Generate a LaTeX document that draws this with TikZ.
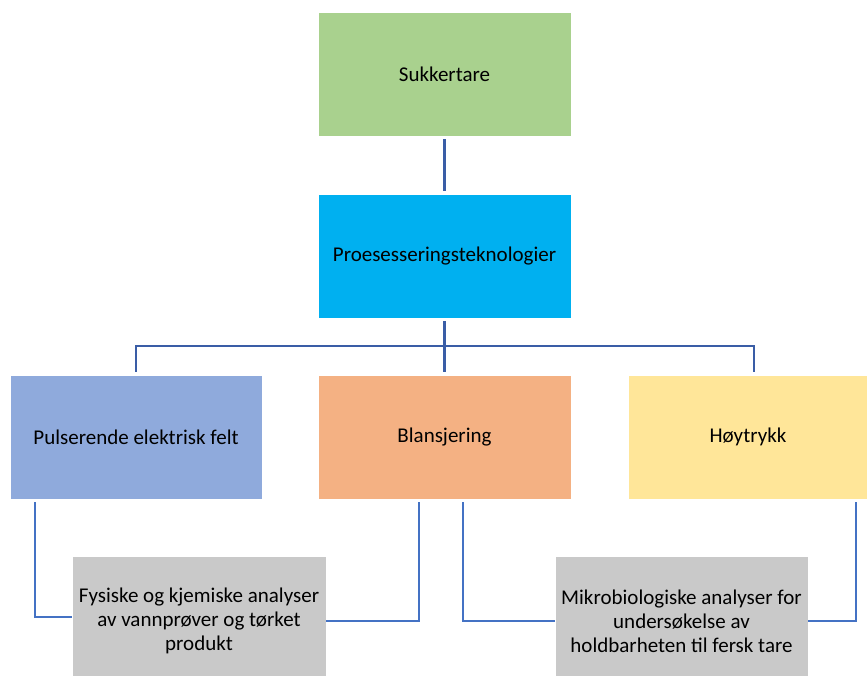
\documentclass[tikz,border=0pt]{standalone}
\usepackage{fontspec}
\setmainfont{Carlito}
\definecolor{cgreen}{HTML}{A9D18E}
\definecolor{ccyan}{HTML}{00B0F0}
\definecolor{cblue}{HTML}{8FAADC}
\definecolor{corange}{HTML}{F4B183}
\definecolor{cyellow}{HTML}{FFE699}
\definecolor{cgray}{HTML}{C9C9C9}
\definecolor{cdark}{HTML}{3A5DA6}
\definecolor{cline}{HTML}{4472C4}
\begin{document}
\begin{tikzpicture}[x=1pt,y=-1pt,
  box/.style={draw=white,line width=0.8pt,rectangle,minimum width=253pt,minimum height=124pt,
    inner sep=2pt,align=center,font=\fontsize{21pt}{24pt}\selectfont,text=black},
  topline/.style={draw=cdark,line width=2.6pt},
  lowline/.style={draw=cline,line width=1.2pt},
  lowthick/.style={draw=cline,line width=2.4pt}]
\useasboundingbox (0,0) rectangle (867,675);
\node[box,fill=cgreen] (suk) at (444.5,74) {Sukkertare};
\node[box,fill=ccyan] (pro) at (444.5,256) {Proesesseringsteknologier};
\node[box,fill=cblue,minimum width=252pt] (pul) at (136,437) {Pulserende elektrisk felt};
\node[box,fill=corange] (bla) at (444.5,437) {Blansjering};
\node[box,fill=cyellow,minimum width=240pt] (hoy) at (748,437) {Høytrykk};
\node[box,fill=cgray,minimum width=254pt,minimum height=130pt] (fys) at (199,621)
  {Fysiske og kjemiske analyser\\av vannprøver og tørket\\produkt};
\node[box,fill=cgray,minimum width=253pt,minimum height=130pt] (mik) at (681.5,621)
  {Mikrobiologiske analyser for\\undersøkelse av\\holdbarheten til fersk tare};
\coordinate (bl) at (136,346);
\coordinate (br) at (754,346);
\draw[topline] ([yshift=-3pt]suk.south) -- ([yshift=3pt]pro.north);
\draw[topline] ([yshift=-3pt]pro.south) -- ([yshift=3pt]bla.north);
\draw[topline] ([yshift=3pt]pul.north) -- (bl) -- (br) -- ([xshift=6pt,yshift=3pt]hoy.north);
\draw[lowthick] ([xshift=-101pt,yshift=-3pt]pul.south) |- ([yshift=4pt]fys.west);
\draw[lowline] ([xshift=-25.5pt,yshift=-3pt]bla.south) |- (fys.east);
\draw[lowline] ([xshift=18.5pt,yshift=-3pt]bla.south) |- (mik.west);
\draw[lowline] ([xshift=108pt,yshift=-3pt]hoy.south) |- (mik.east);
\end{tikzpicture}
\end{document}
